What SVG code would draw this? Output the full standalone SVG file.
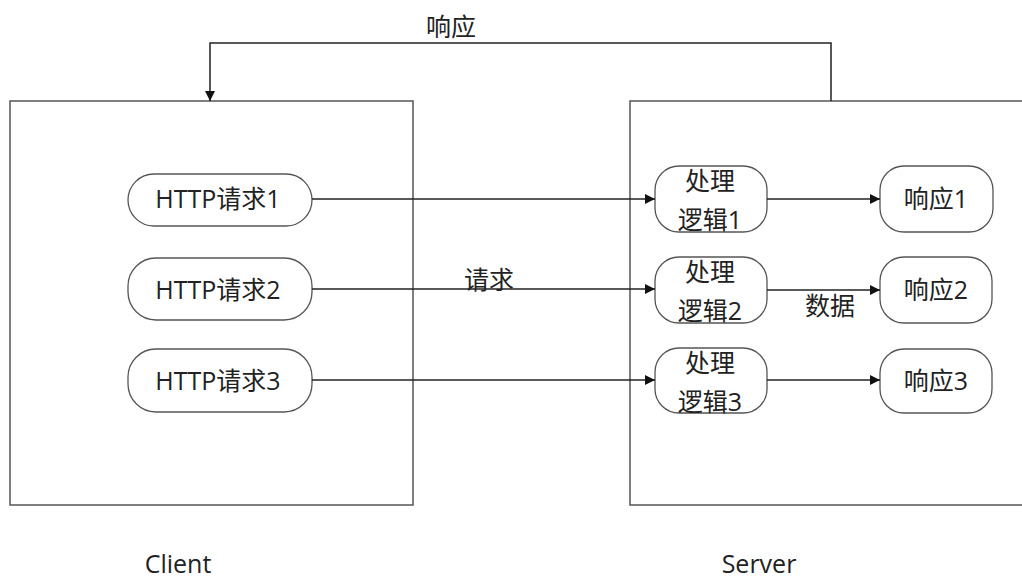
<svg xmlns="http://www.w3.org/2000/svg" width="1022" height="581" viewBox="0 0 1022 581">
<style>
.box{fill:#fff;stroke:#555;stroke-width:1.5}
.pill{fill:#fff;stroke:#555;stroke-width:1.3}
.ln{fill:none;stroke:#222;stroke-width:1.5}
text{font-family:"Open Sans","Noto Sans CJK SC",sans-serif;font-size:25px;fill:#222;text-anchor:middle}
</style>
<defs>
<marker id="ah" viewBox="0 0 10 10" refX="10" refY="5" markerWidth="10" markerHeight="10" markerUnits="userSpaceOnUse" orient="auto">
<path d="M0,0 L10,5 L0,10 Z" fill="#111"/>
</marker>
</defs>
<g id="client"><rect class="box" x="10" y="101" width="403" height="404"/><text x="178" y="573">Client</text></g>
<g id="server"><rect class="box" x="630" y="101" width="400" height="404"/><text x="759" y="573">Server</text></g>
<g id="req1"><rect class="pill" x="128" y="174" width="184" height="52" rx="26"/><text x="218" y="208">HTTP请求1</text></g>
<g id="req2"><rect class="pill" x="128" y="258" width="184" height="62" rx="28"/><text x="218" y="299">HTTP请求2</text></g>
<g id="req3"><rect class="pill" x="128" y="349" width="184" height="63" rx="28"/><text x="218" y="390">HTTP请求3</text></g>
<g id="proc1"><rect class="pill" x="655" y="166" width="112" height="66" rx="24"/><text x="710" y="190">处理</text><text x="710" y="229">逻辑1</text></g>
<g id="proc2"><rect class="pill" x="655" y="257" width="112" height="66" rx="24"/><text x="710" y="281">处理</text><text x="710" y="320">逻辑2</text></g>
<g id="proc3"><rect class="pill" x="655" y="348" width="112" height="65" rx="24"/><text x="710" y="372">处理</text><text x="710" y="411">逻辑3</text></g>
<g id="resp1"><rect class="pill" x="880" y="166" width="113" height="66" rx="24"/><text x="936" y="208">响应1</text></g>
<g id="resp2"><rect class="pill" x="880" y="257" width="112" height="66" rx="24"/><text x="936" y="299">响应2</text></g>
<g id="resp3"><rect class="pill" x="880" y="349" width="112" height="64" rx="24"/><text x="936" y="390">响应3</text></g>
<g id="connectors">
<path class="ln" d="M831,101 V43 H210 V101" marker-end="url(#ah)"/>
<text x="451" y="36">响应</text>
<path class="ln" d="M312,199 H655" marker-end="url(#ah)"/>
<path class="ln" d="M312,289 H655" marker-end="url(#ah)"/>
<text x="489" y="289">请求</text>
<path class="ln" d="M312,380 H655" marker-end="url(#ah)"/>
<path class="ln" d="M767,199 H880" marker-end="url(#ah)"/>
<path class="ln" d="M767,290 H880" marker-end="url(#ah)"/>
<text x="830" y="315">数据</text>
<path class="ln" d="M767,380 H880" marker-end="url(#ah)"/>
</g>
</svg>
